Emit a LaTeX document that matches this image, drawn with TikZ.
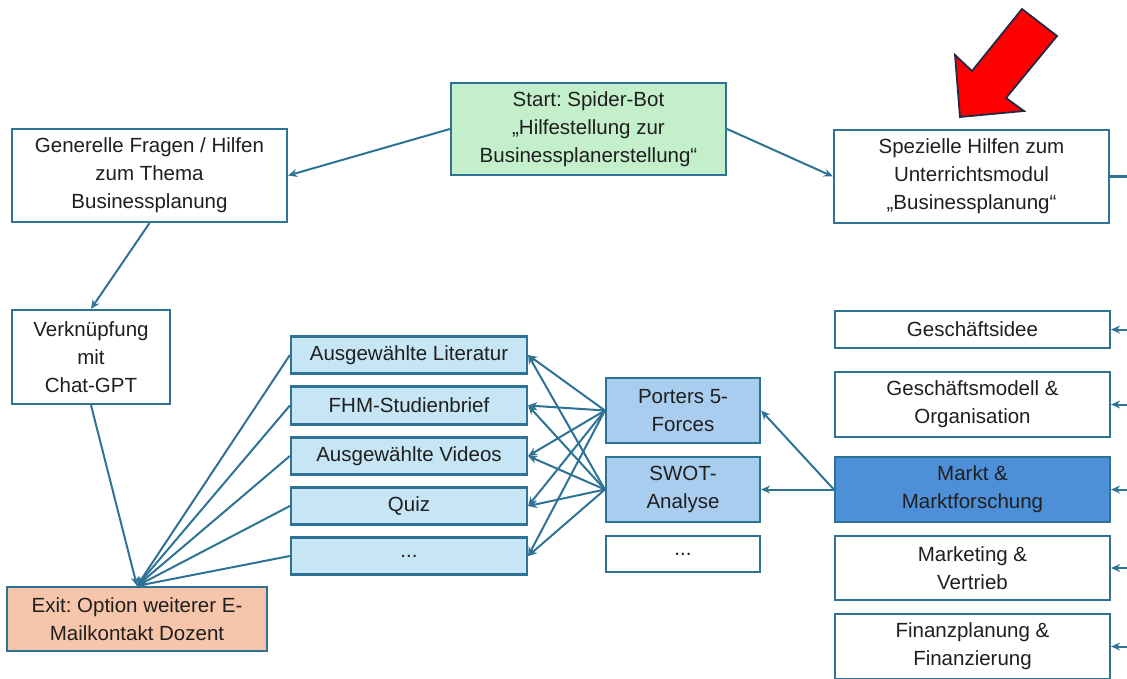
\documentclass[tikz,border=0pt]{standalone}
\usepackage{fontspec}
\setmainfont{Liberation Sans}
\usetikzlibrary{arrows.meta}
\frenchspacing

\definecolor{wire}{HTML}{2E7396}
\definecolor{startgreen}{HTML}{C3EFCB}
\definecolor{paleblue}{HTML}{C6E6F6}
\definecolor{midblue}{HTML}{A9CDEE}
\definecolor{marktblue}{HTML}{4D90D8}
\definecolor{exitorange}{HTML}{F6C5AA}
\definecolor{navy}{HTML}{1F2A44}

\begin{document}
\begin{tikzpicture}[x=1pt, y=-1pt,
    box/.style={draw=wire, line width=2.2pt, fill=white, align=center, inner sep=0pt,
        text=black!88, font=\fontsize{20.5}{28}\selectfont},
    link/.style={draw=wire, line width=2pt, -{Stealth[length=9pt, width=8pt]}}]
            % Canvas:
                \clip (0,0) rectangle (1127,679);
                \coordinate (rim) at (1127,0);
            % Top row:
                \node[box, fill=startgreen, minimum width=275pt, minimum height=92pt] (start) at (588.5,129)
                    {Start: Spider-Bot\\„Hilfestellung zur\\Businessplanerstellung“};
                \node[box, minimum width=275pt, minimum height=93pt] (general) at (149.5,175.5)
                    {Generelle Fragen / Hilfen\\zum Thema\\Businessplanung};
                \node[box, minimum width=275pt, minimum height=93pt] (special) at (971.5,176.5)
                    {Spezielle Hilfen zum\\Unterrichtsmodul\\„Businessplanung“};
            % Left column:
                \node[box, minimum width=158pt, minimum height=94pt] (chat) at (91,357)
                    {Verknüpfung\\mit\\Chat-GPT};
                \node[box, fill=exitorange, minimum width=260pt, minimum height=64pt] (exit) at (137,619)
                    {Exit: Option weiterer E-\\Mailkontakt Dozent};
            % Material boxes:
                \node[box, fill=paleblue, minimum width=236pt, minimum height=37pt] (lit) at (409,355) {Ausgewählte Literatur};
                \node[box, fill=paleblue, minimum width=236pt, minimum height=38pt] (fhm) at (409,405.5) {FHM-Studienbrief};
                \node[box, fill=paleblue, minimum width=236pt, minimum height=37pt] (vid) at (409,456) {Ausgewählte Videos};
                \node[box, fill=paleblue, minimum width=236pt, minimum height=37pt] (quiz) at (409,506) {Quiz};
                \node[box, fill=paleblue, minimum width=236pt, minimum height=37pt] (more) at (409,556) {...};
            % Tools:
                \node[box, fill=midblue, minimum width=154pt, minimum height=65pt] (porter) at (683,410.5) {Porters 5-\\Forces};
                \node[box, fill=midblue, minimum width=154pt, minimum height=65pt] (swot) at (683,489.5) {SWOT-\\Analyse};
                \node[box, minimum width=154pt, minimum height=36pt] (tools) at (683,554) {...};
            % Modules:
                \node[box, minimum width=275pt, minimum height=37pt] (idee) at (972.5,329.5) {Geschäftsidee};
                \node[box, minimum width=275pt, minimum height=65pt] (modell) at (972.5,404.5) {Geschäftsmodell \&\\Organisation};
                \node[box, fill=marktblue, minimum width=275pt, minimum height=65pt] (markt) at (972.5,489.5) {Markt \&\\Marktforschung};
                \node[box, minimum width=275pt, minimum height=64pt] (marketing) at (972.5,568) {Marketing \&\\Vertrieb};
                \node[box, minimum width=275pt, minimum height=65pt] (finanz) at (972.5,646.5) {Finanzplanung \&\\Finanzierung};
            % Wires:
                \draw[link] (start.west) -- (general.east);
                \draw[link] (start.east) -- (special.west);
                \draw[link] (general.south) -- (chat.north);
                \draw[link] (chat.south) -- (exit.north);
                \draw[draw=wire, line width=2.2pt] (special.east) -- (rim |- special.east);
                \foreach \m in {lit,fhm,vid,quiz,more} {
                    \draw[link] (\m.west) -- (exit.north);
                    \draw[link] (porter.west) -- (\m.east);
                    \draw[link] (swot.west) -- (\m.east);
                }
                \draw[link] (markt.west) -- (porter.east);
                \draw[link] (markt.west) -- (swot.east);
                \foreach \m in {idee,modell,markt,marketing,finanz}
                    \draw[link] (rim |- \m.east) -- (\m.east);
            % Pointer:
                \draw[fill=red, draw=navy, line width=1.8pt, line join=miter]
                    (960,117) -- (955,55) -- (972,71) -- (1022,9) -- (1057,36) -- (1006,98) -- (1024,111) -- cycle;
            \end{tikzpicture}
\end{document}
